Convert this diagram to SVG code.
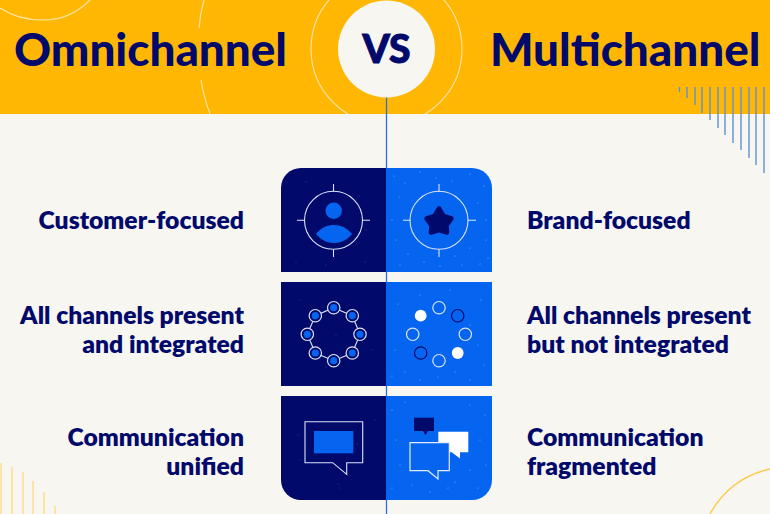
<svg xmlns="http://www.w3.org/2000/svg" width="770" height="514" viewBox="0 0 770 514">
<defs>
<style>
.t{font-family:"Lato","Liberation Sans",sans-serif;font-weight:900;fill:#01096b}
.l{font-size:24.700px;font-weight:800}
.h{font-size:45.800px}
.e{text-anchor:end}
.y{fill:none;stroke:#fde6ad;stroke-width:1.100}
.b{stroke:#5e90d8;stroke-width:1.400}
.g{stroke:#ffdf94;stroke-width:1.600}
.d{fill:#01096b}.c{fill:#0665f0}
.o{fill:none;stroke:#d9e3f7;stroke-width:1.200}
.r{stroke:#d9e3f7;stroke-width:1.100;fill:none}
.s{fill:none;stroke:#7fb0fa;stroke-width:1.200;stroke-linecap:round}
.k{fill:none;stroke:#3a4a9a;stroke-width:1;stroke-linecap:round}
</style>
<clipPath id="hdr"><rect width="770" height="114"/></clipPath>
</defs>
<rect width="770" height="514" fill="#f7f6f1"/>
<g id="banner">
<rect width="770" height="114" fill="#ffb703"/>
<g clip-path="url(#hdr)">
<circle cx="386.500" cy="49" r="75.500" class="y"/>
<path d="M204 0Q200 14 199 28M201 80Q204 98 210 114" class="y"/>
<path d="M0 8Q18 20 43 20Q70 20 90 0" class="y"/>
</g>
</g>
<g id="decor">
<path class="b" d="M679.500 87V92M687 87V98M695 87V105M702 87V113M710 87V120M718 87V128M725 87V135M733 87V143M741 87V150M749 87V158M756 87V165M764 87V173"/>
<path class="g" d="M1 463V514M12 467V514M23 472V514M33 481V514M44 492V514M55 506V514"/>
<path d="M710 514Q730 478 770 469" fill="none" stroke="#ffc74a" stroke-width="1.300"/>
</g>
<g id="connectors"><line x1="386.500" y1="97" x2="386.500" y2="514" stroke="#2f6fd8" stroke-width="1.300"/></g>
<g id="title-left"><text class="t h" x="14" y="66">Omnichannel</text></g>
<g id="title-right"><text class="t h" x="490" y="66">Multichannel</text></g>
<g id="vs"><circle cx="386.500" cy="49" r="48.500" fill="#f7f6f1"/><text class="t" x="386.500" y="63" font-size="39" text-anchor="middle" stroke="#01096b" stroke-width="1">VS</text></g>
<g id="row1-left"><path class="d" d="M386 168H301a20 20 0 0 0-20 20v84h105z"/>
<path class="k" d="M306 182h0M359 196h0M366 230h0M296 262h0M365 262h0M326 265h0"/>
<circle cx="333.500" cy="220.300" r="29" class="r"/><path class="r" d="M333.500 184V191.500M333.500 249.500V257M297 220.300H304.500M362.500 220.300H370"/>
<circle cx="333.700" cy="210.700" r="8.200" class="c"/><path class="c" d="M316 234C322 227 327 225 334 225C341 225 347 228 352 234C347 240 341 243 334 243C327 243 321 240 316 234Z"/></g>
<g id="row1-right"><path class="c" d="M386 168H472a20 20 0 0 1 20 20v84H386z"/>
<path class="s" d="M394 176h0M405 183h0M420 172h0M436 178h0M452 181h0M470 174h0M484 186h0M399 197h0M478 203h0M396 240h0M408 254h0M424 262h0M440 266h0M455 256h0M470 248h0M486 240h0M480 264h0M392 220h0M486 220h0M400 265h0M462 265h0M488 258h0"/>
<circle cx="439" cy="220.300" r="29" class="r"/><path class="r" d="M439 184V191.500M439 249.500V257M403 220.300H410.500M468 220.300H476"/>
<path class="d" stroke="#01096b" stroke-width="4.500" stroke-linejoin="round" d="M439 208.500L443.500 216L451.500 218.500L446.500 225.500L447 232.500L439 230L431 232.500L431.500 225.500L426.500 218.500L434.500 216Z"/></g>
<g id="row2-left"><rect x="281" y="282" width="105" height="104" class="d"/>
<path class="k" d="M336 335h0M326 367h0M300 300h0M372 350h0"/>
<path class="r" d="M333.700 307.700L352.300 315.700L360 334.300L352.300 353L333.700 360.700L315.300 353L307.300 334.300L315.300 315.700Z"/>
<g class="d" stroke="#d9e3f7" stroke-width="1.200"><circle cx="333.700" cy="307.700" r="6.200"/><circle cx="352.300" cy="315.700" r="6.200"/><circle cx="360" cy="334.300" r="6.200"/><circle cx="352.300" cy="353" r="6.200"/><circle cx="333.700" cy="360.700" r="6.200"/><circle cx="315.300" cy="353" r="6.200"/><circle cx="307.300" cy="334.300" r="6.200"/><circle cx="315.300" cy="315.700" r="6.200"/></g>
<g class="c"><circle cx="333.700" cy="307.700" r="3.600"/><circle cx="352.300" cy="315.700" r="3.600"/><circle cx="360" cy="334.300" r="3.600"/><circle cx="352.300" cy="353" r="3.600"/><circle cx="333.700" cy="360.700" r="3.600"/><circle cx="315.300" cy="353" r="3.600"/><circle cx="307.300" cy="334.300" r="3.600"/><circle cx="315.300" cy="315.700" r="3.600"/></g></g>
<g id="row2-right"><rect x="386" y="282" width="106" height="104" class="c"/>
<path class="s" d="M392 376h0M405 372h0M420 380h0M438 377h0M455 372h0M470 380h0M484 365h0M478 345h0M395 350h0M481 300h0M420 295h0M450 290h0M470 325h0M398 304h0"/>
<g class="o"><circle cx="439" cy="307.700" r="6.200"/><circle cx="465.300" cy="334.300" r="6.200"/><circle cx="439" cy="360.700" r="6.200"/><circle cx="412.700" cy="334.300" r="6.200"/></g>
<g fill="none" stroke="#01096b" stroke-width="1.200"><circle cx="457.700" cy="315.700" r="6.200"/><circle cx="420.700" cy="353" r="6.200"/></g>
<circle cx="420.700" cy="315.700" r="5.900" fill="#fff"/><circle cx="457.700" cy="353" r="5.900" fill="#fff"/></g>
<g id="row3-left"><path class="d" d="M281 396H386V500H301a20 20 0 0 1-20-20z"/>
<path class="k" d="M298 435h0M357 444h0M338 484h0M339 488h0M300 460h0M375 420h0"/>
<path class="r" d="M305 421.700H362.700V462.700H346.700V474.300L332.700 462.700H305Z"/><rect x="314" y="431" width="39.300" height="22.300" class="c"/></g>
<g id="row3-right"><path class="c" d="M386 396H492V480a20 20 0 0 1-20 20H386z"/>
<path class="s" d="M392 410h0M405 402h0M470 405h0M485 415h0M480 440h0M396 440h0M400 465h0M412 485h0M430 492h0M455 482h0M470 470h0M478 488h0M392 488h0M448 488h0M486 465h0"/>
<path class="d" d="M414 417.700H434V431H428L425.500 435L423 431H414Z"/>
<path fill="#fff" d="M438.300 431.700H468.300V452.300H460V458.500L451.700 452.300H438.300Z"/>
<path class="c" stroke="#e3ebfa" stroke-width="1.200" d="M410 442.700H449.300V470.700H438V479L428 470.700H410Z"/></g>
<g id="label-1"><text class="t l e" x="244" y="229">Customer-focused</text></g>
<g id="label-2"><text class="t l e" x="244" y="324">All channels present</text><text class="t l e" x="244" y="353">and integrated</text></g>
<g id="label-3"><text class="t l e" x="244" y="446">Communication</text><text class="t l e" x="244" y="475">unified</text></g>
<g id="label-4"><text class="t l" x="527" y="229">Brand-focused</text></g>
<g id="label-5"><text class="t l" x="527" y="324">All channels present</text><text class="t l" x="527" y="353">but not integrated</text></g>
<g id="label-6"><text class="t l" x="527" y="446">Communication</text><text class="t l" x="527" y="475">fragmented</text></g>
</svg>
